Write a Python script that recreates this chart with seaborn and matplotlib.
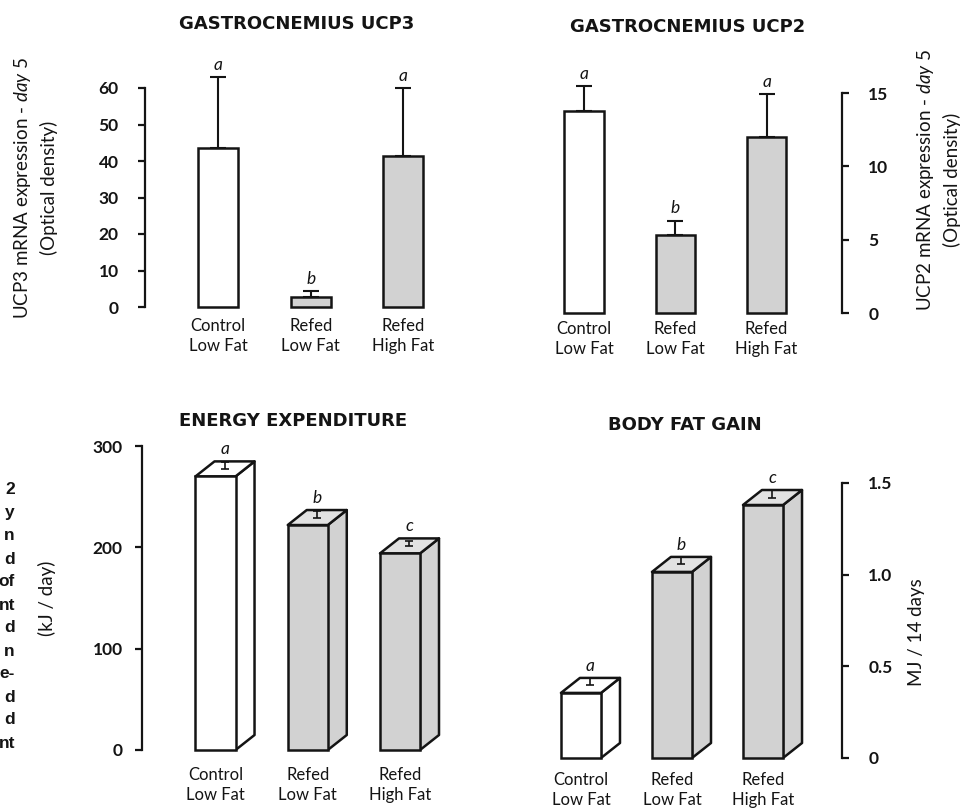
import matplotlib
matplotlib.use("Agg")
import numpy as np
import pandas as pd
import matplotlib.pyplot as plt
import seaborn as sns
from matplotlib.patches import Polygon

# ---- data ----
groups = ["Control\nLow Fat", "Refed\nLow Fat", "Refed\nHigh Fat"]

ucp3_mean = [43.5, 2.7, 41.3]
ucp3_sem = [19.5, 1.6, 18.7]
ucp3_letters = ["a", "b", "a"]
ucp3_ticks = [0, 10, 20, 30, 40, 50, 60]

ucp2_mean = [13.8, 5.3, 12.0]
ucp2_sem = [1.7, 1.0, 2.9]
ucp2_letters = ["a", "b", "a"]
ucp2_ticks = [0, 5, 10, 15]

energy_mean = [270, 222, 194]
energy_sem = [7, 6, 5]
energy_letters = ["a", "b", "c"]
energy_ticks = [0, 100, 200, 300]

fat_mean = [0.355, 1.015, 1.38]
fat_sem = [0.04, 0.04, 0.04]
fat_letters = ["a", "b", "c"]
fat_ticks = [0, 0.5, 1.0, 1.5]
fat_tick_labels = ["0", "0.5", "1.0", "1.5"]

caption_tail = ["2", "y", "n", "d", "of", "nt", "d", "n", "e-", "d", "d", "nt"]

# ---- style ----
sns.set_theme(style="white")
plt.rcParams["font.family"] = ["Lato", "DejaVu Sans"]
plt.rcParams["mathtext.fontset"] = "custom"
plt.rcParams["mathtext.rm"] = "Lato"
plt.rcParams["mathtext.it"] = "Lato:italic"

INK = "#141414"
LW = 1.8
bar_colors = ["white", "#d2d2d2", "#d2d2d2"]
top_colors = ["white", "#e2e2e2", "#e2e2e2"]

W, H = 962, 808
fig = plt.figure(figsize=(W / 100, H / 100), dpi=100)
fig.patch.set_facecolor("white")


def add_axes_px(left, right, top, bottom):
    return fig.add_axes([left / W, 1 - bottom / H, (right - left) / W, (bottom - top) / H])


def draw_bars(ax, means, width):
    df = pd.DataFrame({"group": groups, "value": means})
    sns.barplot(data=df, x="group", y="value", hue="group", palette=bar_colors,
                width=width, edgecolor=INK, linewidth=LW, errorbar=None,
                legend=False, saturation=1, ax=ax)
    bars = list(ax.patches)
    for p in bars:
        p.set_clip_on(False)
    return bars


def style_axis(ax, side, ticks, ticklabels, xlim, label_pad, xlab_pad):
    ax.set_xlim(*xlim)
    ax.set_ylim(ticks[0], ticks[-1])
    ax.set_facecolor("none")
    ax.grid(False)
    for s in ax.spines.values():
        s.set_visible(False)
    sp = ax.spines[side]
    sp.set_visible(True)
    sp.set_linewidth(1.6)
    sp.set_color(INK)
    sp.set_bounds(ticks[0], ticks[-1])
    if side == "right":
        ax.yaxis.tick_right()
    else:
        ax.yaxis.tick_left()
    ax.set_yticks(ticks)
    ax.set_yticklabels(ticklabels)
    ax.tick_params(axis="y", direction="out", length=5, width=1.6, color=INK,
                   pad=label_pad, labelsize=12.5, labelcolor=INK)
    ax.tick_params(axis="x", length=0, pad=xlab_pad, labelsize=12, labelcolor=INK)
    for lab in ax.get_yticklabels():
        lab.set_fontweight("bold")
    for lab in ax.get_xticklabels():
        lab.set_linespacing(1.3)
    ax.set_xlabel("")
    ax.set_ylabel("")


def flat_errorbars(ax, means, sems, letters, capsize):
    x = np.arange(len(means))
    ax.errorbar(x, means, yerr=[np.zeros(len(means)), sems], fmt="none", ecolor=INK,
                elinewidth=1.5, capsize=capsize, capthick=1.5, clip_on=False, zorder=3)
    for xi, m, s, l in zip(x, means, sems, letters):
        ax.annotate(l, (xi, m + s), xytext=(0, 3), textcoords="offset points",
                    ha="center", va="bottom", fontsize=12.5, style="italic",
                    color=INK, annotation_clip=False)


def depth_in_data(ax, dx_px, dy_px):
    inv = ax.transData.inverted()
    o = ax.transData.transform((0, 0))
    d = inv.transform(o + np.array([dx_px, dy_px]))
    return d[0], d[1]


def extrude(ax, bars, sems, letters):
    ddx, ddy = depth_in_data(ax, 19, 15)
    for p, s, l, c, tc in zip(bars, sems, letters, bar_colors, top_colors):
        x0 = p.get_x()
        x1 = x0 + p.get_width()
        h = p.get_height()
        z = p.get_zorder() - 0.1
        side = Polygon([(x1, 0), (x1 + ddx, ddy), (x1 + ddx, h + ddy), (x1, h)],
                       closed=True, fc=c, ec=INK, lw=LW, joinstyle="round",
                       clip_on=False, zorder=z)
        top = Polygon([(x0, h), (x1, h), (x1 + ddx, h + ddy), (x0 + ddx, h + ddy)],
                      closed=True, fc=tc, ec=INK, lw=LW, joinstyle="round",
                      clip_on=False, zorder=z)
        ax.add_patch(side)
        ax.add_patch(top)
        xc = x0 + p.get_width() / 2 + ddx / 2
        yc = h + ddy / 2
        ax.errorbar([xc], [yc], yerr=[[0], [s]], fmt="none", ecolor=INK,
                    elinewidth=1.2, capsize=3, capthick=1.2, clip_on=False, zorder=3)
        ax.annotate(l, (xc, h + ddy), xytext=(0, 3), textcoords="offset points",
                    ha="center", va="bottom", fontsize=12.5, style="italic",
                    color=INK, annotation_clip=False)


# ---- Gastrocnemius UCP3 ----
ax1 = add_axes_px(145, 460, 88, 307)
b1 = draw_bars(ax1, ucp3_mean, 0.43)
style_axis(ax1, "left", ucp3_ticks, [str(t) for t in ucp3_ticks], (-0.787, 2.61), 14, 8)
flat_errorbars(ax1, ucp3_mean, ucp3_sem, ucp3_letters, 5.5)

# ---- Gastrocnemius UCP2 ----
ax2 = add_axes_px(540, 842, 93, 313)
b2 = draw_bars(ax2, ucp2_mean, 0.43)
style_axis(ax2, "right", ucp2_ticks, [str(t) for t in ucp2_ticks], (-0.482, 2.827), 14, 6)
flat_errorbars(ax2, ucp2_mean, ucp2_sem, ucp2_letters, 5.5)

# ---- Energy expenditure ----
ax3 = add_axes_px(142, 470, 446, 750)
b3 = draw_bars(ax3, energy_mean, 0.434)
style_axis(ax3, "left", energy_ticks, [str(t) for t in energy_ticks], (-0.797, 2.759), 9, 12)
extrude(ax3, b3, energy_sem, energy_letters)

# ---- Body fat gain ----
ax4 = add_axes_px(540, 842, 483, 758)
b4 = draw_bars(ax4, fat_mean, 0.44)
style_axis(ax4, "right", fat_ticks, fat_tick_labels, (-0.45, 2.868), 14, 10)
extrude(ax4, b4, fat_sem, fat_letters)

# ---- titles ----
title_kw = dict(ha="center", va="center", family="DejaVu Sans", weight="bold",
                fontsize=13, color=INK)
fig.text(297 / W, 1 - 24 / H, "GASTROCNEMIUS UCP3", **title_kw)
fig.text(688 / W, 1 - 27 / H, "GASTROCNEMIUS UCP2", **title_kw)
fig.text(293 / W, 1 - 421 / H, "ENERGY EXPENDITURE", **title_kw)
fig.text(685 / W, 1 - 425 / H, "BODY FAT GAIN", **title_kw)

# ---- axis labels ----
ylab_kw = dict(rotation=90, ha="center", va="center", multialignment="center",
               fontsize=13.5, color=INK, linespacing=1.4)
fig.text(35 / W, 1 - 188 / H,
         "UCP3 mRNA expression - $\\mathit{day\\ 5}$\n(Optical density)", **ylab_kw)
fig.text(938 / W, 1 - 180 / H,
         "UCP2 mRNA expression - $\\mathit{day\\ 5}$\n(Optical density)", **ylab_kw)
fig.text(47 / W, 1 - 598 / H, "(kJ / day)", **ylab_kw)
fig.text(917 / W, 1 - 632 / H, "MJ / 14 days", **ylab_kw)

# ---- caption tail along the left edge ----
for i, s in enumerate(caption_tail):
    fig.text(15 / W, 1 - (490 + 23 * i) / H, s, ha="right", va="center",
             family="Liberation Sans", weight="bold", fontsize=12.5, color=INK)

fig.savefig("out.png", dpi=100, facecolor="white")
